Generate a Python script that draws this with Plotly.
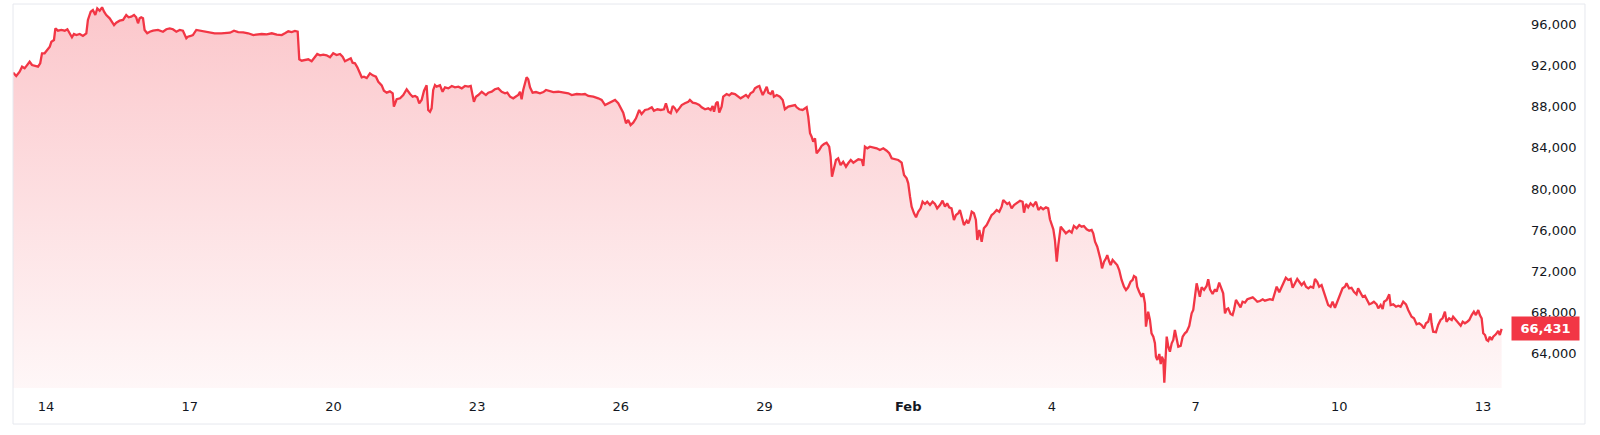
import pandas as pd
import plotly.graph_objects as go

# ---- data ----
# hours since 2026-01-13 00:00
hours = [
7.5,9.1,10.8,12.0,13.3,14.1,15.3,15.8,17.0,18.3,20.0,21.1,22.0,23.3,24.6,25.9,26.7,28.0,28.7,30.0,
31.7,33.4,34.7,35.9,37.0,38.0,39.2,40.9,42.5,44.2,45.0,46.4,47.5,48.7,49.7,50.9,52.1,53.1,54.2,55.9,
57.1,58.1,59.2,60.9,62.6,64.2,65.4,66.7,68.1,69.2,70.1,70.9,71.7,72.6,73.4,74.7,76.0,77.6,80.1,82.6,
84.3,86.0,87.6,89.3,91.0,92.6,94.3,95.1,96.5,97.6,99.3,101.0,103.5,106.0,108.5,111.8,114.3,
116.2,118.2,120.3,122.8,125.3,127.9,129.6,132.1,134.6,137.1,139.6,142.1,143.7,145.4,147.1,148.7,150.1,
150.9,152.1,153.8,155.4,157.1,158.8,159.9,161.3,162.9,164.6,166.3,167.9,169.6,171.3,172.6,173.8,175.4,
176.7,177.6,178.8,180.0,181.3,182.2,183.3,184.7,186.3,187.7,189.3,190.5,192.2,193.3,194.7,196.3,197.7,
198.3,199.7,201.4,203.0,204.7,206.4,207.7,208.9,210.0,211.0,212.2,213.4,214.7,215.5,216.4,217.2,218.0,
218.9,219.7,221.4,
222.7,223.9,225.6,227.3,228.9,230.6,232.3,233.9,235.6,236.8,237.8,238.4,239.4,240.6,242.3,243.1,244.4,
245.6,247.3,248.9,250.6,252.3,254.0,255.1,256.5,258.1,259.5,260.6,261.5,262.3,263.1,264.0,264.8,265.6,
266.5,267.8,269.5,271.5,273.2,274.5,276.2,278.2,280.7,283.2,285.7,287.4,289.9,292.4,294.0,295.7,298.2,
300.7,302.4,304.1,305.7,307.4,309.1,310.7,311.9,313.2,314.6,315.7,316.9,318.2,319.6,321.2,322.4,324.1,325.7,
327.5,328.6,330.3,332.0,333.6,334.6,335.8,337.0,338.0,339.1,340.0,341.3,342.5,344.1,345.8,346.6,348.0,
349.6,351.3,352.5,354.2,355.8,357.0,358.0,358.7,359.7,360.5,361.3,362.5,363.3,364.2,365.0,366.3,367.5,
369.2,370.8,372.0,373.3,374.7,375.8,377.0,378.3,379.2,380.4,381.4,382.1,383.1,384.2,385.1,385.9,387.1,
388.1,388.7,390.1,391.7,393.1,394.2,395.9,397.6,399.3,400.1,401.4,403.1,404.3,405.1,405.9,406.8,407.6,
408.4,409.3,410.1,411.4,412.6,413.8,415.1,416.4,417.1,417.8,418.8,419.8,420.9,422.1,423.4,424.8,425.9,
427.2,428.5,429.8,431.0,
432.7,433.5,434.3,435.5,436.8,438.5,440.2,441.8,443.5,445.2,446.5,447.7,449.4,451.0,452.7,453.9,455.2,
456.0,456.9,457.7,458.9,459.9,461.0,462.2,463.2,464.4,465.5,466.9,468.2,469.4,470.5,471.9,473.2,474.4,
475.5,476.5,477.7,478.9,479.9,481.1,481.9,482.8,483.9,485.3,486.1,486.9,487.8,488.9,489.9,490.6,491.6,
492.8,493.9,495.3,496.6,497.8,498.9,500.3,501.6,502.8,503.6,504.5,505.6,506.6,507.8,509.0,510.3,512.0,
513.3,514.0,515.0,516.1,517.3,518.6,520.0,521.2,522.4,523.6,525.0,526.1,527.0,527.9,528.7,529.5,530.4,
531.2,532.4,533.7,535.0,
536.7,537.9,539.0,540.4,541.7,542.9,544.0,545.4,546.7,547.9,548.7,549.6,550.7,551.7,552.4,553.1,554.1,
555.1,555.7,556.7,557.4,558.4,559.6,560.7,561.7,562.9,564.1,565.1,566.2,567.4,568.4,569.1,570.1,570.7,
571.7,572.9,573.7,574.6,575.1,575.8,576.2,577.1,577.9,578.8,579.6,580.1,580.8,581.8,582.5,583.1,583.8,
584.3,584.8,585.5,586.3,587.1,588.0,588.8,589.6,590.5,591.3,592.5,593.5,594.6,595.5,596.8,598.0,598.8,
599.6,600.5,601.3,602.1,603.0,604.2,605.5,606.3,607.2,608.5,609.7,610.5,611.8,613.0,613.8,614.7,615.5,
616.3,617.5,618.5,619.2,620.2,621.3,622.5,623.5,624.7,625.9,627.2,628.6,629.7,630.9,632.2,633.6,634.7,
635.9,637.2,
638.6,639.7,640.6,641.9,643.1,644.2,645.2,646.4,647.6,648.6,649.8,650.9,651.9,653.1,654.3,655.3,656.5,
657.6,658.9,659.8,660.9,661.9,663.1,663.9,665.3,666.4,667.6,668.6,669.8,670.9,672.3,673.6,674.8,675.6,
676.9,678.1,679.3,680.6,681.4,682.6,683.7,684.8,686.0,687.0,688.2,689.3,690.7,691.5,692.7,693.7,694.4,
695.7,697.0,697.7,699.0,700.4,701.5,702.7,704.0,705.4,706.5,708.2,709.4,710.7,712.0,713.2,714.4,715.4,
716.5,717.7,718.2,719.0,720.4,721.5,722.7,723.7,724.9,725.7,727.0,728.3,729.0,730.4,731.6,732.8,733.8,
734.9,736.1,737.1,738.3,739.4,740.4,741.6,742.4,743.3,744.1,745.0,745.8,746.6,747.4,748.3,749.1,750.4,
751.6,752.4,753.3,
]

prices = [
91280,90960,91370,91860,91700,91930,92190,92340,92020,91930,91860,92190,93160,93160,93480,93800,94280,94450,95580,95350,
95420,95350,95490,95100,94710,95030,94930,95030,94840,95100,96390,97190,97360,96870,97520,97290,97620,97190,96870,96550,
96220,95900,96130,96320,96390,96870,96650,96710,96870,96650,96070,96550,96650,96550,95420,95100,95250,95350,95420,95250,
95490,95580,95490,95250,95420,95350,94610,94770,94840,94930,95420,95350,95250,95160,95100,95100,95160,
95160,95350,95220,95190,95100,94930,94960,95030,95000,95100,94960,94930,95100,95290,95220,95320,95250,
92580,92440,92510,92580,92380,92770,93090,92960,93020,92960,92770,93160,92990,93090,92830,92380,92580,
92670,92250,92190,91800,91220,90830,90890,90760,91220,91020,90890,90400,90050,89530,89340,89470,89280,
87980,88700,88790,89110,89670,89210,88950,89020,88890,88310,88630,89530,90050,87660,87490,87820,89600,
90080,89920,90050,
89430,89860,89760,89990,89860,89920,89760,89990,89920,89990,88950,88460,88950,89110,89430,89280,89110,
89340,89430,89670,89760,89430,89280,89340,88950,88790,88950,89110,89430,88700,89600,90250,90830,90640,
89860,89340,89400,89280,89400,89600,89500,89400,89430,89370,89280,89110,89210,89180,89210,89020,88950,
88790,88630,88140,88310,88460,88630,88310,87820,87400,86370,86690,86200,86430,86850,87660,87270,87660,87730,
87920,87590,87730,87660,87730,88310,87490,87340,88050,87820,87490,87820,88140,88310,88460,88630,88370,
88310,88140,87920,87730,87820,87660,88050,87490,88310,88460,87400,87980,88950,89110,89210,89080,89280,
89210,88950,88790,88950,89110,88890,89280,89430,89760,89920,89990,89600,89110,89530,89920,89340,89210,
89530,88950,89110,88950,88630,87730,87980,88050,88140,87920,87730,87660,87820,87920,87010,85400,85070,
84580,84910,83460,83780,84170,84360,84490,84100,83130,81190,82160,82810,82970,82320,82640,82160,82490,
82810,82550,82740,82880,
82810,82230,84100,83940,84100,84040,83940,83780,83940,83710,83460,82970,82880,82810,82550,81350,81030,
80550,79250,78280,77640,77250,77790,78120,78760,78540,78760,78440,78760,78540,78120,78440,78860,78280,
78610,78220,78120,76990,77470,77640,77960,77150,76500,76920,76670,77060,77790,77640,76990,75050,76020,
74880,76180,76500,77060,77470,77640,77960,77790,78280,78930,78760,78540,78670,78120,78440,78610,78860,
78760,77700,78540,78220,78610,78350,78760,77960,78220,78030,78220,78120,77060,76500,76090,75050,72940,
74560,76340,76020,75700,
75950,75760,76410,76180,76500,76340,76410,76090,75950,76020,75700,74880,74400,73760,73110,72300,72940,
73270,73590,72940,72620,73110,72850,72620,72140,71170,70520,70200,70460,71000,71170,71560,71430,70520,
70030,69550,69880,68910,66640,67610,68090,67290,66000,65670,65030,63730,63410,63990,63020,63730,63410,
61210,62760,65670,64700,64210,65030,65350,66320,65350,64700,64770,65670,66000,66150,66710,67940,68260,
69550,70850,70200,69550,70460,70200,70590,71240,70270,69810,70270,70030,70910,70360,69880,67940,68330,
68420,67870,67770,68260,69230,68910,68520,69060,68970,69300,69390,69490,69300,69060,69130,69300,69160,
69230,69300,
69230,69880,70520,69980,70520,71000,71390,71170,71270,70420,70850,71270,71000,70680,70950,70520,70360,
70520,70420,71270,71000,70520,70680,70200,69550,68740,68580,69060,68480,69060,69780,70360,70520,70850,
70360,70420,70030,69780,70360,69980,69550,69650,69230,68810,68910,69060,68810,68420,68740,68360,69060,
69230,69780,68740,68810,68580,68680,68580,69060,68810,68260,67610,67450,66870,66970,66800,66480,66970,
67120,67940,66970,66150,66100,66800,67290,67450,68090,67120,67450,67290,67610,67290,67120,66740,67120,
66970,67120,67290,67770,68090,67770,68260,67770,67450,66000,65830,65350,65250,65670,65350,65670,65900,
66220,65830,66431,
]

tick_dates = ["2026-01-14", "2026-01-17", "2026-01-20", "2026-01-23", "2026-01-26", "2026-01-29",
              "2026-02-01", "2026-02-04", "2026-02-07", "2026-02-10", "2026-02-13"]
tick_labels = ["14", "17", "20", "23", "26", "29", "<b>Feb</b>", "4", "7", "10", "13"]
y_ticks = [64000, 68000, 72000, 76000, 80000, 84000, 88000, 92000, 96000]

x_range = ["2026-01-13 07:28", "2026-02-13 13:30"]
y_range = [60692, 97940]

base = pd.Timestamp("2026-01-13")
times = base + pd.to_timedelta(hours, unit="h")

LINE = "#F23645"
TEXT = "#131722"
FONT = "DejaVu Sans"

fig = go.Figure()
fig.add_trace(go.Scatter(
    x=times, y=prices, mode="lines",
    line=dict(color=LINE, width=2.3),
    fill="tozeroy",
    fillgradient=dict(
        type="vertical",
        colorscale=[[0, "rgba(242,54,69,0.04)"], [1, "rgba(242,54,69,0.28)"]],
        start=y_range[0], stop=max(prices),
    ),
    hoverinfo="skip", showlegend=False,
))

fig.update_layout(
    width=1600, height=435,
    margin=dict(l=13, r=90, t=4, b=47),
    paper_bgcolor="white", plot_bgcolor="white",
    font=dict(family=FONT, size=13, color=TEXT),
    hovermode=False,
    xaxis=dict(
        range=x_range, showgrid=False, zeroline=False, showline=False,
        tickmode="array", tickvals=tick_dates, ticktext=tick_labels,
        ticks="", ticklabelstandoff=9,
        tickfont=dict(family=FONT, size=13, color=TEXT),
    ),
    yaxis=dict(
        range=y_range, side="right", showgrid=False, zeroline=False, showline=False,
        tickmode="array", tickvals=y_ticks, tickformat=",d",
        ticks="", ticklabelstandoff=20,
        tickfont=dict(family=FONT, size=13, color=TEXT),
    ),
)

# chart frame
fig.add_shape(type="rect", xref="paper", yref="paper",
              x0=0, x1=1.0501, y0=-0.09375, y1=1,
              line=dict(color="#E6E8EE", width=1), layer="above")

# last price label
fig.add_annotation(
    x=1, xref="paper", y=prices[-1], yref="y",
    text=f"<b>{prices[-1]:,}</b>", showarrow=False,
    xanchor="left", yanchor="middle", xshift=1,
    bgcolor=LINE, borderpad=0, width=67, height=23,
    font=dict(family=FONT, size=13, color="white"),
)

fig.write_html("out.html", config={"displayModeBar": False},
               post_script="document.body.style.margin='0px';")
